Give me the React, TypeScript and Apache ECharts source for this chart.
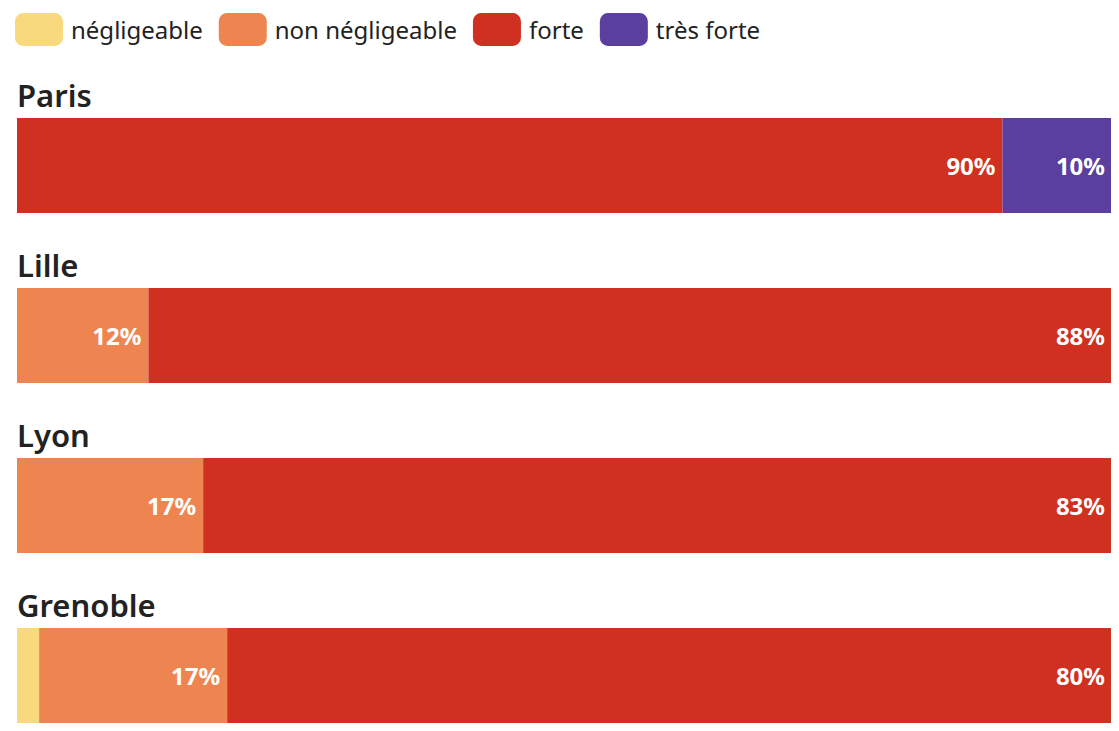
import React, { useEffect, useRef } from "react";
import * as echarts from "echarts";

const cities = ["Paris", "Lille", "Lyon", "Grenoble"];
const levels = ["négligeable", "non négligeable", "forte", "très forte"];
const colors = ["#f8d97e", "#ee8550", "#d0301f", "#5a3f9e"];
// shares (%) per city, in order of levels
const negligeable = [0, 0, 0, 2];
const nonNegligeable = [0, 12, 17, 17];
const forte = [90, 88, 83, 80];
const tresForte = [10, 0, 0, 0];
const valuesByLevel = [negligeable, nonNegligeable, forte, tresForte];

const FONT = "'Noto Sans', sans-serif";

export default function App() {
  const ref = useRef<HTMLDivElement>(null);
  useEffect(() => {
    if (!ref.current) return;
    const chart = echarts.init(ref.current, null, { renderer: "svg" });
    const gridTop0 = 110;
    const step = 170;
    const barH = 95;
    const grids = cities.map((_, i) => ({
      left: 9,
      right: 7,
      top: gridTop0 + step * i,
      height: barH,
    }));
    const xAxes = cities.map((_, i) => ({
      type: "value",
      gridIndex: i,
      min: 0,
      max: 100,
      show: false,
    }));
    const yAxes = cities.map((c, i) => ({
      type: "category",
      gridIndex: i,
      data: [c],
      show: false,
    }));
    const series: any[] = [];
    cities.forEach((c, i) => {
      const total = valuesByLevel.reduce((s, arr) => s + arr[i], 0);
      levels.forEach((lv, k) => {
        const raw = valuesByLevel[k][i];
        series.push({
          type: "bar",
          name: lv,
          stack: "s" + i,
          xAxisIndex: i,
          yAxisIndex: i,
          barWidth: "100%",
          itemStyle: { color: colors[k] },
          label: {
            show: raw >= 5,
            position: "insideRight",
            distance: 7,
            formatter: raw + "%",
            color: "#ffffff",
            fontFamily: FONT,
            fontWeight: "bold",
            fontSize: 24,
          },
          data: [(raw / total) * 100],
        });
      });
    });
    chart.setOption({
      animation: false,
      legend: {
        data: levels,
        left: 2,
        top: 0,
        itemWidth: 48,
        itemHeight: 33,
        itemGap: 16,
        icon: "roundRect",
        selectedMode: false,
        textStyle: {
          fontFamily: FONT,
          fontSize: 24,
          color: "#222",
          padding: [0, 0, 0, 3],
        },
      },
      grid: grids,
      xAxis: xAxes,
      yAxis: yAxes,
      series,
      graphic: cities.map((c, i) => ({
        type: "text",
        left: 9,
        top: gridTop0 + step * i - 39,
        style: {
          text: c,
          fontFamily: FONT,
          fontSize: 31,
          fontWeight: 600,
          fill: "#222",
        },
      })),
    });
    return () => chart.dispose();
  }, []);
  return <div ref={ref} style={{ width: 1111, height: 720 }} />;
}
